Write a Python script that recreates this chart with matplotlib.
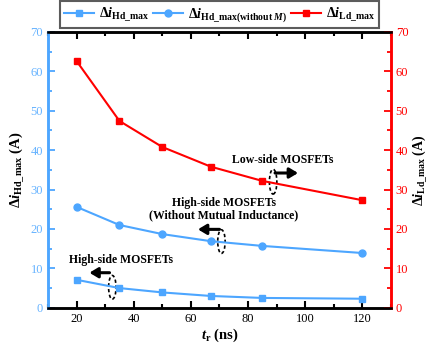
import matplotlib
matplotlib.use("Agg")
import matplotlib.pyplot as plt
from matplotlib.patches import Ellipse
from matplotlib.ticker import MultipleLocator

plt.rcParams['font.family'] = 'Liberation Serif'
plt.rcParams['mathtext.fontset'] = 'custom'
plt.rcParams['mathtext.rm'] = 'Liberation Serif:bold'
plt.rcParams['mathtext.bf'] = 'Liberation Serif:bold'
plt.rcParams['mathtext.it'] = 'Liberation Serif:bold:italic'

tr = [20, 35, 50, 67, 85, 120]
hd_max = [7.1, 5.0, 3.9, 3.0, 2.5, 2.3]
hd_max_noM = [25.6, 21.0, 18.7, 16.9, 15.7, 13.9]
ld_max = [62.6, 47.4, 40.8, 35.8, 32.2, 27.3]

blue = '#4da6ff'
blue_t = '#66b3ff'
red = '#ff0000'

fig = plt.figure(figsize=(4.29, 3.47), dpi=100)
ax = fig.add_axes([0.112, 0.113, 0.799, 0.795])
ax2 = ax.twinx()

l1, = ax.plot(tr, hd_max, color=blue, marker='s', ms=5, lw=1.5)
l2, = ax.plot(tr, hd_max_noM, color=blue, marker='o', ms=5, lw=1.5)
l3, = ax2.plot(tr, ld_max, color=red, marker='s', ms=5, lw=1.5)

ax.set_xlim(10, 130)
ax.set_ylim(0, 70)
ax2.set_ylim(0, 70)
ax.xaxis.set_major_locator(MultipleLocator(20))
ax.xaxis.set_minor_locator(MultipleLocator(10))
ax.yaxis.set_major_locator(MultipleLocator(10))
ax.yaxis.set_minor_locator(MultipleLocator(5))
ax2.yaxis.set_major_locator(MultipleLocator(10))
ax2.yaxis.set_minor_locator(MultipleLocator(5))

for a in (ax, ax2):
    for s in a.spines.values():
        s.set_linewidth(1.8)
ax2.spines['left'].set_color(blue)
ax2.spines['right'].set_color(red)
ax2.spines['top'].set_color('black')
ax2.spines['bottom'].set_color('black')
ax.spines['left'].set_color(blue)
ax.spines['right'].set_color(red)

ax.tick_params(axis='x', which='both', direction='in', top=True, width=1.5, labelsize=9, colors='black', pad=4)
ax.tick_params(axis='x', which='major', length=5)
ax.tick_params(axis='x', which='minor', length=3)
ax.tick_params(axis='y', which='both', direction='in', colors=blue, labelcolor=blue_t, width=1.3, labelsize=9)
ax.tick_params(axis='y', which='major', length=5)
ax.tick_params(axis='y', which='minor', length=3)
ax2.tick_params(axis='y', which='both', direction='in', colors=red, width=1.3, labelsize=9)
ax2.tick_params(axis='y', which='major', length=5)
ax2.tick_params(axis='y', which='minor', length=3)

ax.set_xlabel(r'$\mathit{t}_{\mathrm{r}}$ (ns)', fontsize=10.5, fontweight='bold', labelpad=1)
ax.set_ylabel(r'$\Delta\mathit{i}_{\mathrm{Hd\_max}}$ (A)', fontsize=10.5, fontweight='bold', labelpad=3)
ax2.set_ylabel(r'$\Delta\mathit{i}_{\mathrm{Ld\_max}}$ (A)', fontsize=10, fontweight='bold', labelpad=1)

labels = [r'$\Delta\mathit{i}_{\mathrm{Hd\_max}}$',
          r'$\Delta\mathit{i}_{\mathrm{Hd\_max(without}\ \mathit{M})}$',
          r'$\Delta\mathit{i}_{\mathrm{Ld\_max}}$']
leg = fig.legend([l1, l2, l3], labels, loc='lower center', bbox_to_anchor=(0.511, 0.918),
                 ncol=3, fontsize=10, frameon=True, fancybox=False, edgecolor='#333333',
                 handlelength=2.2, handletextpad=0.3, columnspacing=0.3, borderpad=0.3,
                 borderaxespad=0)
leg.get_frame().set_linewidth(1.5)

# annotations
ax.text(92.2, 37.6, 'Low-side MOSFETs', ha='center', va='center', fontsize=8.5, fontweight='bold')
ax.add_patch(Ellipse((88.8, 32.0), 2.6, 6.3, fill=False, ls=(0, (2, 1.5)), lw=1.2, color='black'))
ax.annotate('', xy=(98.5, 34.2), xytext=(88.5, 34.2),
            arrowprops=dict(arrowstyle='-|>,head_length=0.5,head_width=0.3', lw=2.2, color='black'))

ax.text(71.5, 26.6, 'High-side MOSFETs', ha='center', va='center', fontsize=8.5, fontweight='bold')
ax.text(71.5, 23.5, '(Without Mutual Inductance)', ha='center', va='center', fontsize=8.5, fontweight='bold')
ax.add_patch(Ellipse((70.7, 16.8), 2.6, 6.0, fill=False, ls=(0, (2, 1.5)), lw=1.2, color='black'))
ax.annotate('', xy=(61.5, 19.9), xytext=(71.0, 19.9),
            arrowprops=dict(arrowstyle='-|>,head_length=0.5,head_width=0.3', lw=2.2, color='black'))

ax.text(35.5, 12.0, 'High-side MOSFETs', ha='center', va='center', fontsize=8.5, fontweight='bold')
ax.add_patch(Ellipse((32.5, 5.2), 2.6, 6.0, fill=False, ls=(0, (2, 1.5)), lw=1.2, color='black'))
ax.annotate('', xy=(23.5, 8.9), xytext=(32.5, 8.9),
            arrowprops=dict(arrowstyle='-|>,head_length=0.5,head_width=0.3', lw=2.2, color='black'))

fig.savefig('out.png', dpi=100)
